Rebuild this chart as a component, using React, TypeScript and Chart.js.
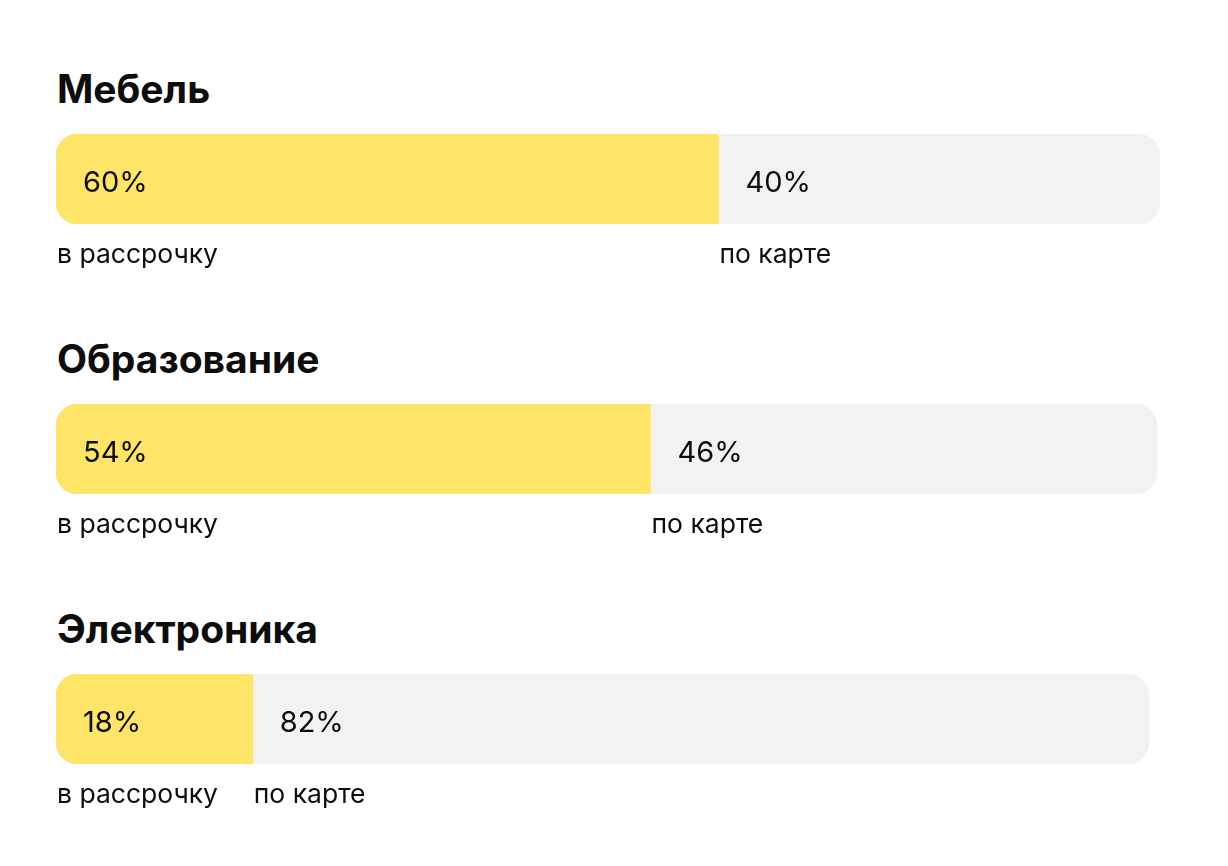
import React, { useEffect, useRef } from 'react';
import { Chart, registerables } from 'chart.js';

Chart.register(...registerables);

// data
const categories = ['Мебель', 'Образование', 'Электроника'];
const installmentShare = [60, 54, 18];
const cardShare = [40, 46, 82];
const seriesLabels = ['в рассрочку', 'по карте'];

// layout (px) – each bar in the picture has a slightly different length
const BAR_WIDTHS = [1104, 1101, 1093];
const YELLOW = '#FFE567';
const GREY = '#F2F2F2';
const FONT = 'Inter, "Noto Sans", sans-serif';

// draws the "60%" inside each segment and the series name under it
const segmentLabels = {
  id: 'segmentLabels',
  afterDatasetsDraw(chart: any) {
    const { ctx } = chart;
    chart.data.datasets.forEach((ds: any, i: number) => {
      const meta = chart.getDatasetMeta(i);
      meta.data.forEach((bar: any, j: number) => {
        const { x, base, y, height } = bar.getProps(['x', 'base', 'y', 'height'], true);
        const left = Math.min(x, base);
        const top = y - height / 2;
        ctx.save();
        ctx.fillStyle = '#0d0d0d';
        ctx.textBaseline = 'alphabetic';
        ctx.textAlign = 'left';
        ctx.font = `400 29px ${FONT}`;
        ctx.fillText(`${ds.data[j]}%`, left + 27, top + 58);
        ctx.font = `400 26.5px ${FONT}`;
        ctx.fillText(ds.label, left + 1, top + height + 39);
        ctx.restore();
      });
    });
  }
};

const SplitBar: React.FC<{ index: number }> = ({ index }) => {
  const canvasRef = useRef<HTMLCanvasElement>(null);

  useEffect(() => {
    if (!canvasRef.current) return;
    const chart = new Chart(canvasRef.current, {
      type: 'bar',
      data: {
        labels: [categories[index]],
        datasets: [
          {
            label: seriesLabels[0],
            data: [installmentShare[index]],
            backgroundColor: YELLOW,
            borderSkipped: false,
            borderRadius: { topLeft: 22, bottomLeft: 22, topRight: 0, bottomRight: 0 }
          },
          {
            label: seriesLabels[1],
            data: [cardShare[index]],
            backgroundColor: GREY,
            borderSkipped: false,
            borderRadius: { topLeft: 0, bottomLeft: 0, topRight: 22, bottomRight: 22 }
          }
        ]
      },
      options: {
        indexAxis: 'y',
        animation: false,
        responsive: true,
        maintainAspectRatio: false,
        events: [],
        layout: { padding: { top: 0, bottom: 60, left: 0, right: 0 } },
        datasets: { bar: { barPercentage: 1, categoryPercentage: 1 } },
        plugins: {
          legend: { display: false },
          tooltip: { enabled: false },
          title: { display: false }
        },
        scales: {
          x: { stacked: true, min: 0, max: 100, display: false },
          y: { stacked: true, display: false }
        }
      } as any,
      plugins: [segmentLabels]
    });

    return () => chart.destroy();
  }, [index]);

  return (
    <div style={{ position: 'relative', width: BAR_WIDTHS[index], height: 150 }}>
      <canvas ref={canvasRef} />
    </div>
  );
};

export default function App() {
  return (
    <div style={{ padding: '58px 0 0 48px', background: '#fff', fontFamily: FONT }}>
      {categories.map((name, i) => (
        <div key={name} style={{ marginTop: i === 0 ? 0 : 52 }}>
          <div
            style={{
              fontSize: 39,
              fontWeight: 700,
              lineHeight: '46px',
              color: '#0d0d0d',
              marginBottom: 22,
              paddingLeft: 1
            }}
          >
            {name}
          </div>
          <SplitBar index={i} />
        </div>
      ))}
    </div>
  );
}
